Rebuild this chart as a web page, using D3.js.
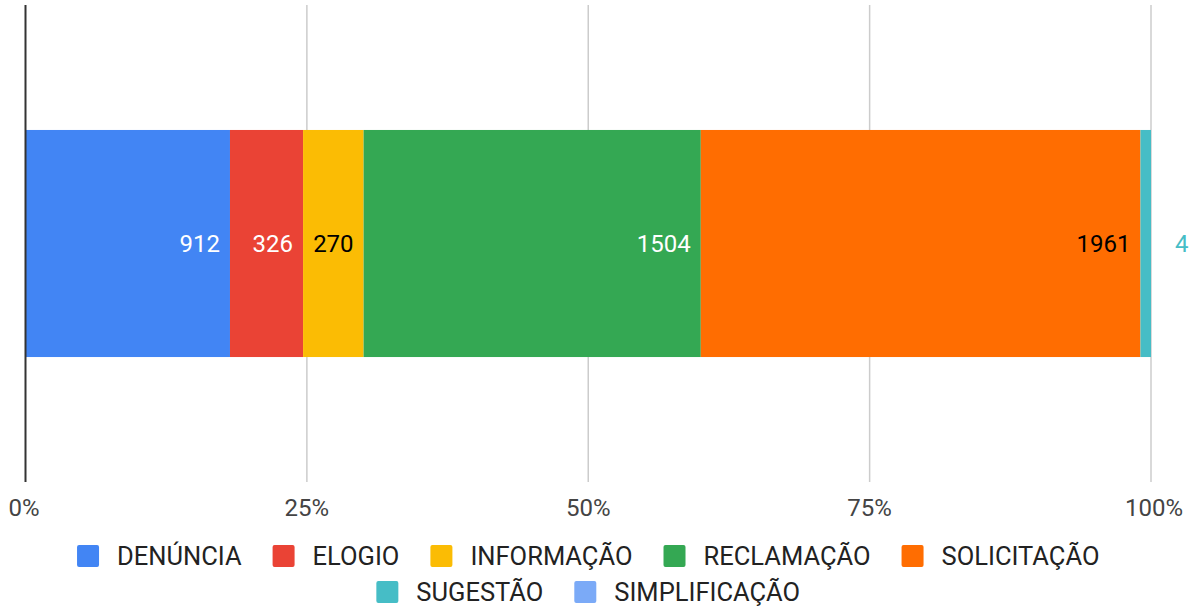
<!DOCTYPE html>
<html>
<head>
<meta charset="utf-8">
<script src="https://cdn.jsdelivr.net/npm/d3@7"></script>
<style>
  body { margin: 0; background: #fff; }
  svg { display: block; overflow: hidden; font-family: Roboto, Arial, sans-serif; }
</style>
</head>
<body>
<svg id="chart" width="1190" height="609"></svg>
<script>
// Data
const categories = ['DENÚNCIA', 'ELOGIO', 'INFORMAÇÃO', 'RECLAMAÇÃO', 'SOLICITAÇÃO', 'SUGESTÃO', 'SIMPLIFICAÇÃO']
const values = [912, 326, 270, 1504, 1961, 47, 0]
const colors = ['#4285f4', '#ea4335', '#fbbc04', '#34a853', '#ff6d01', '#46bdc6', '#7baaf7']
const labelColors = ['#fff', '#fff', '#000', '#fff', '#000', '#46bdc6', '#000']
const ticks = [0, 0.25, 0.5, 0.75, 1]
const legendRows = [[0, 1, 2, 3, 4], [5, 6]]

const W = 1190, H = 609
const m = {left: 25.5, right: 39, top: 5, bottom: 127}
const svg = d3.select('#chart')

const total = d3.sum(values)
let acc = 0
const segs = values.map((v, i) => {
    const s = {i, v, x0: acc / total, x1: (acc + v) / total}
    acc += v
    return s
})

const x = d3.scaleLinear().domain([0, 1]).range([m.left, W - m.right])
const y = d3.scaleBand().domain(['total']).range([m.top, H - m.bottom]).padding(0.355)

/* Gridlines */
svg.append('g').selectAll('line').data(ticks.slice(1)).enter()
    .append('line')
    .attr('x1', d => x(d)).attr('x2', d => x(d))
    .attr('y1', m.top).attr('y2', H - m.bottom)
    .attr('stroke', '#cccccc').attr('stroke-width', 1.5)

/* Bars */
svg.append('g').selectAll('rect').data(segs.filter(d => d.v > 0)).enter()
    .append('rect')
    .attr('x', d => x(d.x0)).attr('width', d => x(d.x1) - x(d.x0))
    .attr('y', y('total')).attr('height', y.bandwidth())
    .attr('fill', d => colors[d.i])

/* Baseline */
svg.append('line')
    .attr('x1', x(0)).attr('x2', x(0))
    .attr('y1', m.top).attr('y2', H - m.bottom)
    .attr('stroke', '#333').attr('stroke-width', 2)

/* Value labels (outside labels that hit the edge get trimmed, like the original) */
const cy = y('total') + y.bandwidth() / 2
svg.append('g').selectAll('text').data(segs.filter(d => d.v > 0)).enter()
    .append('text')
    .text(d => d.v)
    .attr('x', d => d.v / total < 0.03 ? x(d.x1) + 24 : x(d.x1) - 10)
    .attr('text-anchor', d => d.v / total < 0.03 ? 'start' : 'end')
    .attr('y', cy).attr('dy', '0.36em')
    .attr('font-size', 24)
    .attr('fill', d => labelColors[d.i])
    .each(function() {
        let t = this.textContent
        while (t.length > 1 && this.getBBox().x + this.getBBox().width > W - 2) {
            t = t.slice(0, -1)
            this.textContent = t
        }
    })

/* Axis tick labels */
svg.append('g').selectAll('text').data(ticks).enter()
    .append('text')
    .text(d3.format('.0%'))
    .attr('x', d => x(d))
    .attr('text-anchor', (d, i) => i === 0 ? 'start' : i === ticks.length - 1 ? 'end' : 'middle')
    .attr('dx', (d, i) => i === 0 ? -17 : i === ticks.length - 1 ? 32 : 0)
    .attr('y', 516)
    .attr('font-size', 24)
    .attr('fill', '#444')

/* Legend */
const sw = 22, gapT = 18, gapI = 31
legendRows.forEach((row, r) => {
    const g = svg.append('g')
    let cx = 0
    row.forEach(i => {
        const item = g.append('g').attr('transform', `translate(${cx},0)`)
        item.append('rect')
            .attr('width', sw).attr('height', sw).attr('rx', 2)
            .attr('y', -sw / 2)
            .attr('fill', colors[i])
        const t = item.append('text')
            .text(categories[i])
            .attr('x', sw + gapT).attr('dy', '0.36em')
            .attr('font-size', 25.5).attr('fill', '#222')
        cx += sw + gapT + t.node().getComputedTextLength() + gapI
    })
    const wRow = cx - gapI
    g.attr('transform', `translate(${(x(0) + x(1)) / 2 - wRow / 2},${556 + r * 36})`)
})
</script>
</body>
</html>
